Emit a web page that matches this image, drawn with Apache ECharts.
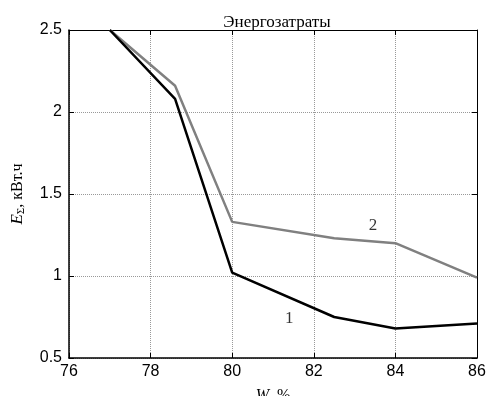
<!DOCTYPE html>
<html>
<head>
<meta charset="utf-8">
<script src="https://cdn.jsdelivr.net/npm/echarts@6/dist/echarts.min.js"></script>
<style>
  html, body { margin: 0; padding: 0; background: #fff; }
  #chart { width: 488px; height: 396px; }
</style>
</head>
<body>
<div id="chart"></div>
<script>
// W, % по оси X
var xCurve = [77, 78.6, 80, 82.5, 84, 86];
// кривая 1 (чёрная) и кривая 2 (серая), кВт.ч
var curve1 = [2.5, 2.08, 1.02, 0.75, 0.68, 0.71];
var curve2 = [2.5, 2.16, 1.33, 1.23, 1.20, 0.99];
// подписи кривых
var curveNames = ['1', '2'];
var labelPos = [[81.4, 0.74], [83.45, 1.31]];

var chart = echarts.init(document.getElementById('chart'));

function pairs(xs, ys) {
    var out = [];
    for (var i = 0; i < xs.length; i++) {
        out.push([xs[i], ys[i]]);
    }
    return out;
}

var serif = '"Liberation Serif", "DejaVu Serif", serif';
var sans = '"Liberation Sans", Arial, sans-serif';

var tickStyle = { show: true, inside: true, length: 5, lineStyle: { color: '#000', width: 1 } };
var gridLine = { show: true, lineStyle: { color: '#999', type: [1, 1], width: 1 } };

var option = {
    animation: false,
    backgroundColor: '#fff',
    title: {
        text: 'Энергозатраты',
        left: 272,
        textAlign: 'center',
        top: 9,
        textStyle: { fontFamily: serif, fontWeight: 'normal', fontSize: 17, color: '#000' }
    },
    grid: { left: 69, right: 11, top: 30, bottom: 38, outerBoundsMode: 'none', containLabel: false },
    xAxis: [
        {
            type: 'value',
            min: 76, max: 86, interval: 2,
            position: 'bottom',
            axisLine: { lineStyle: { color: '#000', width: 1.5 } },
            axisTick: tickStyle,
            splitLine: gridLine,
            axisLabel: { fontFamily: sans, fontSize: 16, color: '#000', margin: 6 },
            name: '{i|W}{n|, %}',
            nameLocation: 'middle',
            nameGap: 30,
            nameTextStyle: {
                rich: {
                    i: { fontFamily: serif, fontStyle: 'italic', fontSize: 16, color: '#000' },
                    n: { fontFamily: serif, fontSize: 16, color: '#000' }
                }
            }
        },
        {
            type: 'value',
            min: 76, max: 86, interval: 2,
            position: 'top',
            axisLine: { show: true, lineStyle: { color: '#000', width: 1 } },
            axisTick: tickStyle,
            axisLabel: { show: false },
            splitLine: { show: false }
        }
    ],
    yAxis: [
        {
            type: 'value',
            min: 0.5, max: 2.5, interval: 0.5,
            position: 'left',
            axisLine: { show: true, lineStyle: { color: '#000', width: 1.5 } },
            axisTick: tickStyle,
            splitLine: gridLine,
            axisLabel: { fontFamily: sans, fontSize: 16, color: '#000', margin: 7 },
            name: '{i|E}{s|Σ}{n|, кВт.ч}',
            nameLocation: 'middle',
            nameGap: 42,
            nameTextStyle: {
                rich: {
                    i: { fontFamily: serif, fontStyle: 'italic', fontSize: 17, color: '#000' },
                    s: { fontFamily: serif, fontSize: 11, color: '#000', verticalAlign: 'bottom', padding: [8, 0, 0, 0] },
                    n: { fontFamily: serif, fontSize: 16, color: '#000' }
                }
            }
        },
        {
            type: 'value',
            min: 0.5, max: 2.5, interval: 0.5,
            position: 'right',
            axisLine: { show: true, lineStyle: { color: '#000', width: 1 } },
            axisTick: tickStyle,
            axisLabel: { show: false },
            splitLine: { show: false }
        }
    ],
    series: [
        {
            name: 'curve2',
            type: 'line',
            data: pairs(xCurve, curve2),
            symbol: 'none',
            lineStyle: { color: '#808080', width: 2.5 },
            z: 3
        },
        {
            name: 'curve1',
            type: 'line',
            data: pairs(xCurve, curve1),
            symbol: 'none',
            lineStyle: { color: '#000', width: 2.5 },
            z: 4
        },
        {
            name: 'labels',
            type: 'scatter',
            symbolSize: 0,
            data: labelPos.map(function (p, i) {
                return { value: p, name: curveNames[i] };
            }),
            label: {
                show: true,
                position: 'inside',
                formatter: '{b}',
                fontFamily: serif,
                fontSize: 17,
                color: '#000'
            },
            z: 5
        }
    ]
};

chart.setOption(option);
</script>
</body>
</html>
